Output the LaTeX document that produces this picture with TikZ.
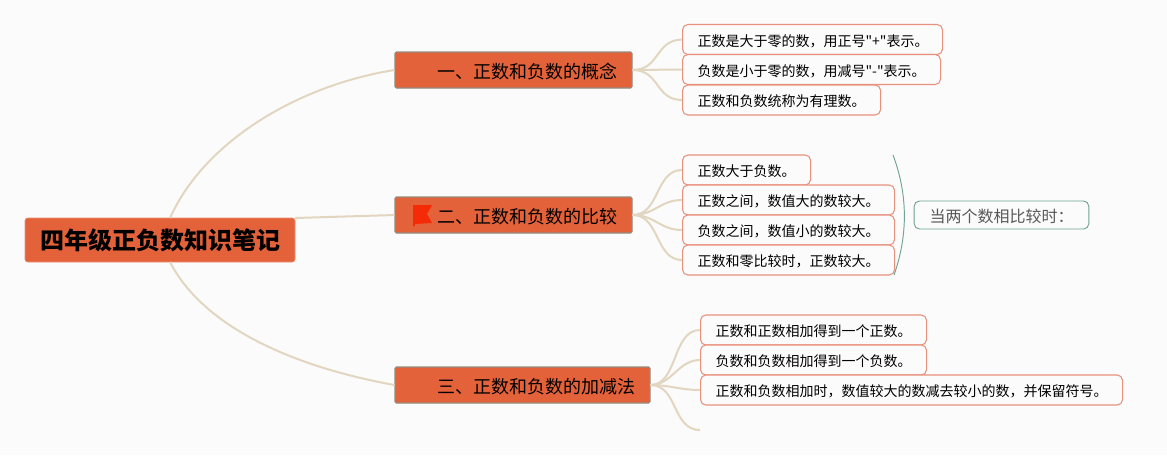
\documentclass[tikz,border=0pt]{standalone}
\usepackage{fontspec}
\newfontfamily\cjk{Noto Sans CJK SC}
\definecolor{bgc}{HTML}{FBFBFB}
\definecolor{linec}{HTML}{E2D6C0}
\definecolor{orangec}{HTML}{E4623A}
\definecolor{edgec}{HTML}{E8917C}
\definecolor{greenc}{HTML}{6FA392}
\definecolor{flagc}{HTML}{F42B06}
\newcommand{\fwc}{\symbol{"FF0C}}
\newcommand{\fwk}{\symbol{"FF1A}}
\tikzset{
  rootbox/.style={fill=orangec,draw=orangec!70!white,line width=0.5pt,rounded corners=2pt,minimum width=202.5pt,minimum height=33pt,inner sep=0pt,font=\cjk\fontsize{18pt}{20pt}\selectfont\bfseries,text=black},
  branchbox/.style={fill=orangec,draw=black!35!linec,line width=0.8pt,rounded corners=1pt,minimum height=27pt,inner sep=0pt,text height=12.6pt,text depth=0pt,font=\cjk\fontsize{13.5pt}{15pt}\selectfont,text=black},
  childbox/.style={fill=bgc,draw=edgec,line width=0.8pt,rounded corners=4pt,minimum height=22.5pt,inner xsep=11.25pt,inner ysep=0pt,anchor=west,align=left,text height=10pt,text depth=0pt,font=\cjk\fontsize{10.5pt}{12pt}\selectfont,text=black},
  notebox/.style={fill=bgc,draw=greenc,line width=0.7pt,rounded corners=4pt,minimum width=131pt,minimum height=21pt,inner sep=0pt,text height=11pt,text depth=0pt,font=\cjk\fontsize{12pt}{14pt}\selectfont,text=black!65},
  rootline/.style={draw=linec,line width=1.5pt},
  twig/.style={draw=linec,line width=1.5pt},
  bracketline/.style={draw=greenc,line width=0.7pt}
}
\begin{document}
\begin{tikzpicture}[x=0.75pt,y=-0.75pt]
\useasboundingbox[fill=bgc] (0,0) rectangle (1167,455);
% anchors on the root's edges and free end
\coordinate (rtop) at (170,218);
\coordinate (rbot) at (170,262);
\coordinate (rmid) at (295,218);
\coordinate (free) at (700,430);
\coordinate (brtop) at (893,155);
\coordinate (brbot) at (894,275);
% nodes
\node[rootbox] (root) at (160,240) {四年级正负数知识笔记};
\node[branchbox,minimum width=177.75pt] (b1) at (513.5,70) {\hspace*{21pt}一、正数和负数的概念};
\node[branchbox,minimum width=177.75pt] (b2) at (513.5,215) {\hspace*{21pt}二、正数和负数的比较};
\node[branchbox,minimum width=191.25pt] (b3) at (522.5,385) {\hspace*{21pt}三、正数和负数的加减法};
\node[childbox,text width=172.5pt] (c11) at (682,39.5) {\mbox{正数是大于零的数\fwc{}用正号"+"表示。}};
\node[childbox,text width=171pt] (c12) at (682,69.5) {\mbox{负数是小于零的数\fwc{}用减号"-"表示。}};
\node[childbox,text width=126pt] (c13) at (682,100) {\mbox{正数和负数统称为有理数。}};
\node[childbox,text width=73.5pt] (c21) at (682,170) {\mbox{正数大于负数。}};
\node[childbox,text width=136.5pt] (c22) at (682,200) {\mbox{正数之间\fwc{}数值大的数较大。}};
\node[childbox,text width=136.5pt] (c23) at (682,230) {\mbox{负数之间\fwc{}数值小的数较大。}};
\node[childbox,text width=136.5pt] (c24) at (682,260) {\mbox{正数和零比较时\fwc{}正数较大。}};
\node[childbox,text width=147pt] (c31) at (700,330) {\mbox{正数和正数相加得到一个正数。}};
\node[childbox,text width=147pt] (c32) at (700,360) {\mbox{负数和负数相加得到一个负数。}};
\node[childbox,text width=294pt] (c33) at (700,390) {\mbox{正数和负数相加时\fwc{}数值较大的数减去较小的数\fwc{}并保留符号。}};
\node[notebox] (note) at (1001.5,215) {当两个数相比较时\fwk{}};
% flag
\fill[flagc] (413,205) -- (432,205) -- (427,214) -- (432,223) -- (415,224) -- (415,226) -- (413,226) -- cycle;
% main connectors
\draw[rootline] (rtop) .. controls (205,140) and (300,85) .. (b1.west);
\draw[rootline] (rmid) -- (b2.west);
\draw[rootline] (rbot) .. controls (205,330) and (300,368) .. (b3.west);
% branch 1
\draw[twig] (b1.east) .. controls (660,70) and (655,40) .. (c11.west);
\draw[twig] (b1.east) -- (c12.west);
\draw[twig] (b1.east) .. controls (660,70) and (655,100) .. (c13.west);
% branch 2
\draw[twig] (b2.east) .. controls (660,215) and (655,170) .. (c21.west);
\draw[twig] (b2.east) .. controls (655,215) and (660,200) .. (c22.west);
\draw[twig] (b2.east) .. controls (655,215) and (660,230) .. (c23.west);
\draw[twig] (b2.east) .. controls (660,215) and (655,260) .. (c24.west);
% branch 3
\draw[twig] (b3.east) .. controls (678,385) and (672,330) .. (c31.west);
\draw[twig] (b3.east) .. controls (672,385) and (678,360) .. (c32.west);
\draw[twig] (b3.east) .. controls (670,385) and (680,390) .. (c33.west);
\draw[twig] (b3.east) .. controls (678,385) and (672,430) .. (free);
% bracket
\draw[bracketline] (brtop) .. controls (908,195) and (908,235) .. (brbot);
\end{tikzpicture}
\end{document}
